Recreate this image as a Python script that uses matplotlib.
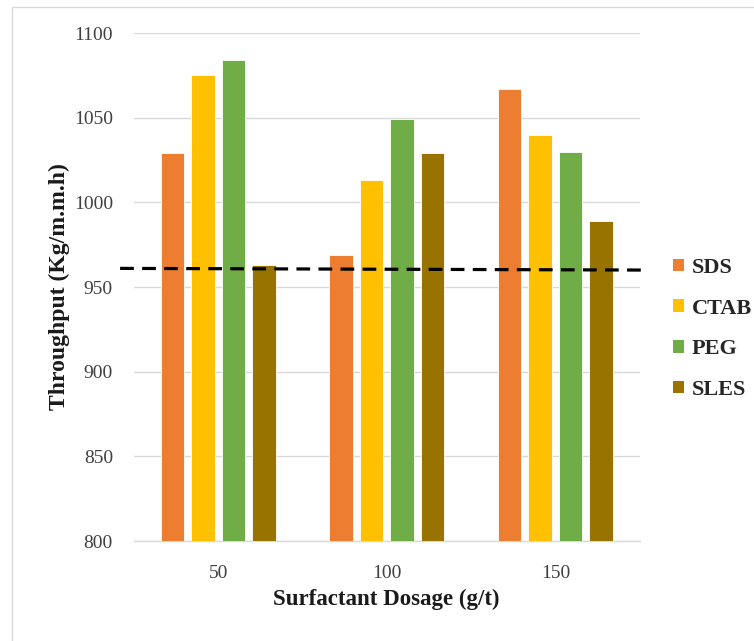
import matplotlib
matplotlib.use("Agg")
import matplotlib.pyplot as plt
import numpy as np
from matplotlib.transforms import blended_transform_factory
from matplotlib.patches import Rectangle, Patch

categories = ["50", "100", "150"]
series_names = ["SDS", "CTAB", "PEG", "SLES"]
sds = [1029, 969, 1067]
ctab = [1075, 1013, 1040]
peg = [1084, 1049, 1030]
sles = [963, 1029, 989]
threshold = [961, 960]
yticks = [800, 850, 900, 950, 1000, 1050, 1100]

colors = ["#ED7D31", "#FFC000", "#70AD47", "#997300"]
values = [sds, ctab, peg, sles]

plt.rcParams["font.family"] = ["Liberation Serif", "DejaVu Serif"]

fig = plt.figure(figsize=(7.54, 6.41), dpi=100)
ax = fig.add_axes([0.1774, 0.156, 0.671, 0.7925])

x = np.arange(len(categories))
pitch = 0.181
width = 0.139
for i, (name, vals, c) in enumerate(zip(series_names, values, colors)):
    ax.bar(x + (i - 1.5) * pitch, vals, width=width, color=c,
           edgecolor="white", linewidth=0.6, label=name, zorder=3)

ax.set_ylim(800, 1100)
ax.set_xlim(-0.5, len(categories) - 0.5)
ax.set_yticks(yticks)
ax.set_xticks(x)
ax.set_xticklabels(categories)
ax.yaxis.grid(True, color="#D9D9D9", linewidth=1.0, zorder=0)
ax.set_axisbelow(True)
for s in ["top", "right", "left"]:
    ax.spines[s].set_visible(False)
ax.spines["bottom"].set_color("#D9D9D9")
ax.spines["bottom"].set_linewidth(1.0)
ax.tick_params(axis="both", length=0, labelsize=14, colors="#404040")
ax.tick_params(axis="y", pad=15)
ax.tick_params(axis="x", pad=17)

ax.set_ylabel("Throughput (Kg/m.m.h)", fontsize=17, fontweight="bold",
              color="#1a1a1a", labelpad=3)
ax.set_xlabel("Surfactant Dosage (g/t)", fontsize=16.5, fontweight="bold",
              color="#1a1a1a", labelpad=5)

trans = blended_transform_factory(ax.transAxes, ax.transData)
ax.plot([-0.027, 1.018], threshold, transform=trans, color="black",
        linewidth=2.3, dashes=(4.3, 2.6), clip_on=False, zorder=5)

handles = [Patch(facecolor=c, edgecolor="none") for c in colors]
leg = fig.legend(handles, series_names, loc="upper left",
                 bbox_to_anchor=(673 / 754, 1 - 258 / 641), frameon=False,
                 prop={"size": 16, "weight": "bold"},
                 borderpad=0, borderaxespad=0,
                 handlelength=0.5, handleheight=0.5, handletextpad=0.35,
                 labelspacing=0.93)
for t in leg.get_texts():
    t.set_color("#262626")

fig.patches.append(Rectangle((11.5 / 754, -0.1), 1.2, 1.1 - 7.5 / 641,
                             transform=fig.transFigure, fill=False,
                             edgecolor="#D9D9D9", linewidth=1.0))

fig.savefig("out.png", dpi=100)
